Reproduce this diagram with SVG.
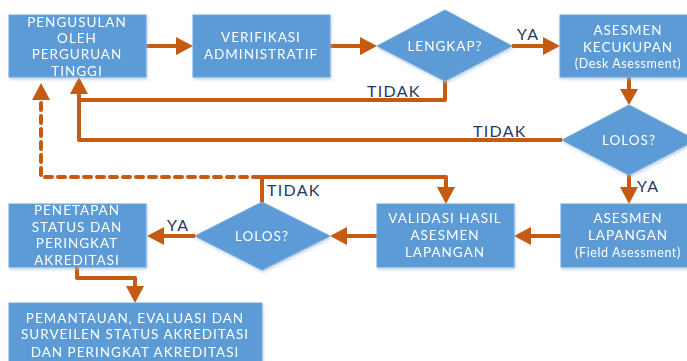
<svg xmlns="http://www.w3.org/2000/svg" width="687" height="361" viewBox="0 0 687 361">
<defs>
<style>
.box{fill:#5B9BD5;stroke:#6FA8DC;stroke-width:1}
.t{font-family:Lato,"Open Sans","DejaVu Sans",sans-serif;font-size:13.5px;fill:#fff;text-anchor:middle;letter-spacing:1px}
.s{font-size:12.5px;letter-spacing:0.6px}
.lb{font-family:Lato,"Open Sans","DejaVu Sans",sans-serif;font-size:16px;fill:#1F3864;letter-spacing:1.3px}
.c{fill:none;stroke:#C55A11;stroke-width:4;stroke-linejoin:round}
.d{fill:none;stroke:#C55A11;stroke-width:4;stroke-dasharray:7 6;stroke-linecap:round}
.ah{fill:#C55A11}
</style>
<filter id="sh" x="-10%" y="-10%" width="120%" height="130%">
<feDropShadow dx="1" dy="2" stdDeviation="1.5" flood-color="#9DB8D8" flood-opacity="0.6"/>
</filter>
</defs>
<g id="connectors">
<line class="c" x1="146" y1="46" x2="176" y2="46"/>
<polygon class="ah" points="176,37 193,46 176,55"/>
<line class="c" x1="330" y1="46" x2="360" y2="46"/>
<polygon class="ah" points="360,37 377,46 360,55"/>
<line class="c" x1="512" y1="46" x2="543" y2="46"/>
<polygon class="ah" points="543,37 560,46 543,55"/>
<line class="c" x1="629" y1="77" x2="629" y2="90"/>
<polygon class="ah" points="620,89 638,89 629,105"/>
<polyline class="c" points="445,81 445,100 79,100"/>
<polyline class="c" points="562,140 79,140 79,93"/>
<polygon class="ah" points="70,94 88,94 79,77"/>
<line class="c" x1="629" y1="175" x2="629" y2="188"/>
<polygon class="ah" points="620,187 638,187 629,204"/>
<line class="c" x1="561" y1="236" x2="531" y2="236"/>
<polygon class="ah" points="531,227 514,236 531,245"/>
<line class="c" x1="377" y1="236" x2="347" y2="236"/>
<polygon class="ah" points="347,227 330,236 347,245"/>
<line class="c" x1="195" y1="236" x2="164" y2="236"/>
<polygon class="ah" points="164,227 147,236 164,245"/>
<polyline class="c" points="262,202 262,177 446,177 446,189"/>
<polygon class="ah" points="437,187 455,187 446,204"/>
<polyline class="d" points="260,177 41,177 41,102"/>
<polygon class="ah" points="32,100 50,100 41,83"/>
<polyline class="c" points="77,267 77,278 135,278 135,288"/>
<polygon class="ah" points="126,286 144,286 135,303"/>
<text class="lb" x="517" y="40">YA</text>
<text class="lb" x="367" y="97">TIDAK</text>
<text class="lb" x="473" y="137">TIDAK</text>
<text class="lb" x="637" y="192">YA</text>
<text class="lb" x="267" y="196">TIDAK</text>
<text class="lb" x="167" y="231">YA</text>
</g>
<g id="n1" filter="url(#sh)">
<rect class="box" x="9" y="15" width="137" height="62"/>
<text class="t" x="77" y="27">PENGUSULAN</text>
<text class="t" x="77" y="43">OLEH</text>
<text class="t" x="77" y="59">PERGURUAN</text>
<text class="t" x="77" y="76">TINGGI</text>
</g>
<g id="n2" filter="url(#sh)">
<rect class="box" x="193" y="15" width="137" height="62"/>
<text class="t" x="261" y="42">VERIFIKASI</text>
<text class="t" x="261" y="59">ADMINISTRATIF</text>
</g>
<g id="n3" filter="url(#sh)">
<polygon class="box" points="377,46 445,10 512,46 445,81"/>
<text class="t" x="445" y="51">LENGKAP?</text>
</g>
<g id="n4" filter="url(#sh)">
<rect class="box" x="560" y="15" width="137" height="62"/>
<text class="t" x="628" y="35">ASESMEN</text>
<text class="t" x="628" y="52">KECUKUPAN</text>
<text class="t s" x="628" y="68">(Desk Asessment)</text>
</g>
<g id="n5" filter="url(#sh)">
<polygon class="box" points="562,140 629,105 696,140 629,175"/>
<text class="t" x="629" y="145">LOLOS?</text>
</g>
<g id="n6" filter="url(#sh)">
<rect class="box" x="561" y="204" width="137" height="63"/>
<text class="t" x="628" y="223">ASESMEN</text>
<text class="t" x="628" y="240">LAPANGAN</text>
<text class="t s" x="628" y="257">(Field Asessment)</text>
</g>
<g id="n7" filter="url(#sh)">
<rect class="box" x="377" y="204" width="137" height="63"/>
<text class="t" x="445" y="223">VALIDASI HASIL</text>
<text class="t" x="445" y="240">ASESMEN</text>
<text class="t" x="445" y="257">LAPANGAN</text>
</g>
<g id="n8" filter="url(#sh)">
<polygon class="box" points="195,236 262,202 330,236 262,270"/>
<text class="t" x="262" y="241">LOLOS?</text>
</g>
<g id="n9" filter="url(#sh)">
<rect class="box" x="9" y="204" width="137" height="63"/>
<text class="t" x="77" y="215">PENETAPAN</text>
<text class="t" x="77" y="232">STATUS DAN</text>
<text class="t" x="77" y="248">PERINGKAT</text>
<text class="t" x="77" y="265">AKREDITASI</text>
</g>
<g id="n10" filter="url(#sh)">
<rect class="box" x="9" y="303" width="253" height="62"/>
<text class="t" x="135" y="323">PEMANTAUAN, EVALUASI DAN</text>
<text class="t" x="135" y="339">SURVEILEN STATUS AKREDITASI</text>
<text class="t" x="135" y="357">DAN PERINGKAT AKREDITASI</text>
</g>
</svg>
